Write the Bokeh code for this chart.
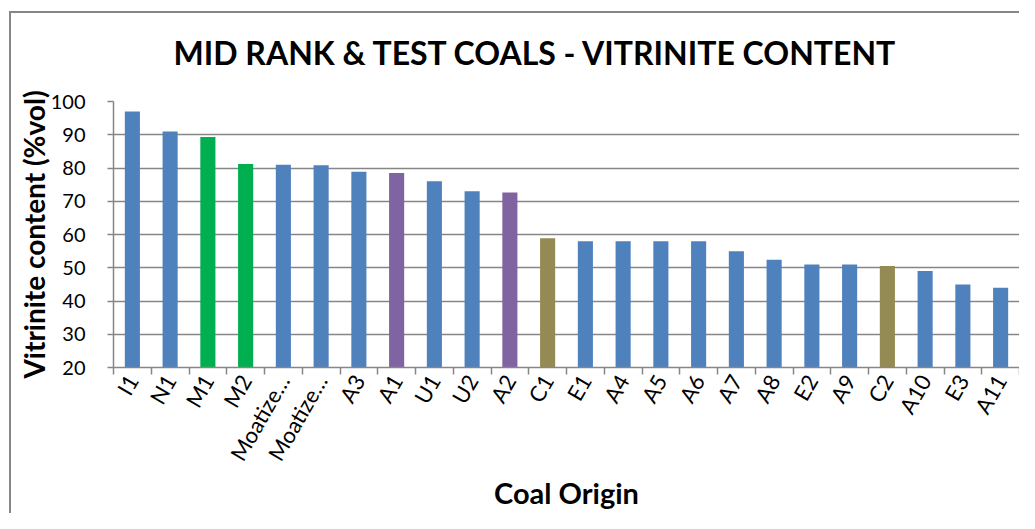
import math
from bokeh.plotting import figure
from bokeh.models import ColumnDataSource, FixedTicker, Range1d
from bokeh.embed import file_html
from bokeh.resources import INLINE

categories = ["I1", "N1", "M1", "M2", "Moatize…", "Moatize…", "A3", "A1", "U1", "U2", "A2", "C1",
              "E1", "A4", "A5", "A6", "A7", "A8", "E2", "A9", "C2", "A10", "E3", "A11"]
vitrinite = [97, 91, 89.3, 81.2, 81, 80.8, 78.9, 78.5, 76, 73, 72.6, 58.9,
             58, 58, 58, 58, 55, 52.4, 51, 51, 50.5, 49, 45, 44]
groups = ["other", "other", "M", "M", "other", "other", "other", "A", "other", "other", "A", "C",
          "other", "other", "other", "other", "other", "other", "other", "other", "C", "other", "other", "other"]
y_ticks = [20, 30, 40, 50, 60, 70, 80, 90, 100]

palette = {"other": "#4F81BD", "M": "#00B050", "A": "#8064A2", "C": "#948A54"}

n = len(categories)
xs = [i + 0.5 for i in range(n)]
src = ColumnDataSource(dict(x=xs, top=vitrinite, cat=categories,
                            color=[palette[g] for g in groups]))

FONT = "Lato"
GREY = "#868686"

chart_border_css = {
    "background-color": "white",
    "background-image": "linear-gradient(#868686, #868686), linear-gradient(#868686, #868686)",
    "background-size": "2px 100%, 100% 2px",
    "background-position": "9px 11px, 9px 11px",
    "background-repeat": "no-repeat",
}

p = figure(width=1019, height=513, output_backend="svg", toolbar_location=None,
           x_range=Range1d(0, n), y_range=Range1d(20, 100),
           min_border_left=113, min_border_right=0, min_border_top=101, min_border_bottom=146,
           styles=chart_border_css)
p.border_fill_color = None
p.background_fill_color = "white"

p.title.text = "MID RANK & TEST COALS - VITRINITE CONTENT"
p.title.text_font = FONT
p.title.text_font_size = "32px"
p.title.text_font_style = "bold"
p.title.text_color = "black"
p.title.align = "left"
p.title.offset = 60
p.title.standoff = 60

p.vbar(x="x", top="top", bottom=20, width=0.4, fill_color="color", line_color=None, source=src)

p.outline_line_color = None
p.xgrid.visible = False
p.ygrid.grid_line_color = GREY
p.ygrid.grid_line_width = 1.5
p.ygrid.ticker = FixedTicker(ticks=y_ticks)

# x axis: labels at category centres, tick marks at category boundaries
xa = p.xaxis[0]
xa.ticker = FixedTicker(ticks=xs, minor_ticks=list(range(n + 1)))
xa.major_label_overrides = {x: c for x, c in zip(xs, categories)}
xa.major_tick_out = 0
xa.major_tick_in = 0
xa.minor_tick_out = 7
xa.minor_tick_in = 0
xa.minor_tick_line_color = GREY
xa.minor_tick_line_width = 1.5
xa.axis_line_color = GREY
xa.axis_line_width = 1.5
xa.major_label_orientation = math.radians(60)
xa.major_label_text_font = FONT
xa.major_label_text_font_size = "22px"
xa.major_label_text_color = "black"
xa.major_label_standoff = 2
xa.axis_label = "Coal Origin"
xa.axis_label_text_font = FONT
xa.axis_label_text_font_size = "29px"
xa.axis_label_text_font_style = "bold"
xa.axis_label_text_color = "black"
xa.axis_label_standoff = 0

ya = p.yaxis[0]
ya.ticker = FixedTicker(ticks=y_ticks)
ya.major_tick_out = 6
ya.major_tick_in = 0
ya.minor_tick_line_color = None
ya.major_tick_line_color = GREY
ya.major_tick_line_width = 1.5
ya.axis_line_color = GREY
ya.axis_line_width = 1.5
ya.major_label_text_font = FONT
ya.major_label_text_font_size = "20px"
ya.major_label_text_color = "black"
ya.major_label_standoff = 22
ya.axis_label = "Vitrinite content (%vol)"
ya.axis_label_text_font = FONT
ya.axis_label_text_font_size = "28px"
ya.axis_label_text_font_style = "bold"
ya.axis_label_text_color = "black"
ya.axis_label_standoff = -3

open("out.html", "w").write(file_html(p, INLINE))
